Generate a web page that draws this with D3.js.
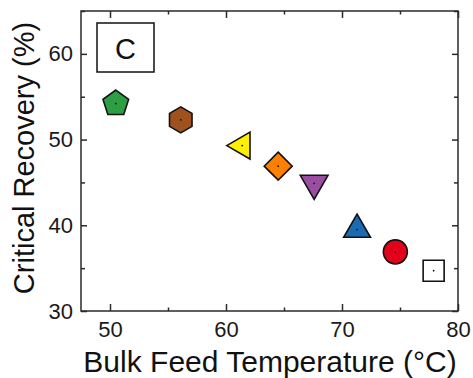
<!DOCTYPE html>
<html>
<head>
<meta charset="utf-8">
<script src="https://cdn.jsdelivr.net/npm/d3@7"></script>
<style>
	body { margin: 0; background: #fff; }
	svg { font-family: "Liberation Sans", Arial, sans-serif; }
</style>
</head>
<body>
<svg id="chart" width="473" height="378"></svg>
<script>
// ====================== 데이터 ======================
var temps    = [50.5, 56.1, 61.4, 64.5, 67.6, 71.3, 74.6, 77.9];
var recovery = [54.2, 52.3, 49.3, 46.9, 44.9, 39.5, 36.9, 34.7];
var shapes   = ["pentagon", "hexagon", "triangleLeft", "diamond", "triangleDown", "triangleUp", "circle", "square"];
var colors   = ["#2e9e44", "#a0521e", "#ffef00", "#ff7f00", "#994ea1", "#1b6bb3", "#e3001b", "#ffffff"];
var xTicks   = [50, 60, 70, 80];
var xMinor   = [55, 65, 75];
var yTicks   = [30, 40, 50, 60];
var yMinor   = [35, 45, 55, 65];
var panelLabel = "C";

var data = temps.map((t, i) => ({ t: t, r: recovery[i], shape: shapes[i], color: colors[i] }));

// ====================== 레이아웃 ======================
var margin = { top: 11, right: 15, bottom: 67, left: 81 };
var svg = d3.select("#chart");
var width = +svg.attr("width") - margin.left - margin.right;
var height = +svg.attr("height") - margin.top - margin.bottom;

var g = svg.append("g").attr("transform", `translate(${margin.left},${margin.top})`);

var x = d3.scaleLinear().domain([47.5, 80]).range([0, width]);
var y = d3.scaleLinear().domain([30, 65]).range([height, 0]);

var axisColor = "#2a2a2a";

function styleAxis(sel, showText) {
	sel.select(".domain").remove();
	sel.selectAll(".tick line").attr("stroke", axisColor).attr("stroke-width", 1.5);
	if (showText) {
		sel.selectAll(".tick text")
			.style("font-size", "22px")
			.attr("fill", "#1a1a1a");
	} else {
		sel.selectAll(".tick text").remove();
	}
}

// 아래 축
g.append("g").attr("transform", `translate(0,${height})`)
	.call(d3.axisBottom(x).tickValues(xTicks).tickSize(-7).tickPadding(10).tickFormat(d3.format("d")))
	.call(s => styleAxis(s, true));
g.append("g").attr("transform", `translate(0,${height})`)
	.call(d3.axisBottom(x).tickValues(xMinor).tickSize(-3.5))
	.call(s => styleAxis(s, false));

// 위 축 (눈금만)
g.append("g")
	.call(d3.axisTop(x).tickValues(xTicks).tickSize(-7))
	.call(s => styleAxis(s, false));
g.append("g")
	.call(d3.axisTop(x).tickValues(xMinor).tickSize(-3.5))
	.call(s => styleAxis(s, false));

// 왼쪽 축
g.append("g")
	.call(d3.axisLeft(y).tickValues(yTicks).tickSize(-6).tickPadding(8).tickFormat(d3.format("d")))
	.call(s => styleAxis(s, true));
g.append("g")
	.call(d3.axisLeft(y).tickValues(yMinor).tickSize(-4))
	.call(s => styleAxis(s, false));

// 오른쪽 축 (눈금만)
g.append("g").attr("transform", `translate(${width},0)`)
	.call(d3.axisRight(y).tickValues(yTicks).tickSize(-6))
	.call(s => styleAxis(s, false));
g.append("g").attr("transform", `translate(${width},0)`)
	.call(d3.axisRight(y).tickValues(yMinor).tickSize(-4))
	.call(s => styleAxis(s, false));

// 테두리
g.append("rect")
	.attr("width", width)
	.attr("height", height)
	.attr("fill", "none")
	.attr("stroke", axisColor)
	.attr("stroke-width", 1.5);

// ====================== 마커 ======================
function polygon(n, R, rot) {
	var pts = [];
	for (var k = 0; k < n; k++) {
		var a = rot + k * 2 * Math.PI / n;
		pts.push([R * Math.sin(a), -R * Math.cos(a)]);
	}
	return "M" + pts.map(p => p[0].toFixed(2) + "," + p[1].toFixed(2)).join("L") + "Z";
}

function markerPath(shape) {
	switch (shape) {
		case "pentagon": return polygon(5, 13.5, 0);
		case "hexagon": return polygon(6, 13, 0);
		case "triangleUp": return polygon(3, 15.5, 0);
		case "triangleDown": return polygon(3, 16, Math.PI);
		case "triangleLeft": return polygon(3, 15.5, -Math.PI / 2);
		case "diamond": return polygon(4, 14, 0);
		case "square": return "M-10.5,-10.5H10.5V10.5H-10.5Z";
		case "circle": return d3.symbol(d3.symbolCircle, Math.PI * 12 * 12)();
	}
}

var pts = g.selectAll(".pt")
	.data(data)
	.enter().append("g")
	.attr("class", "pt")
	.attr("transform", d => `translate(${x(d.t)},${y(d.r)})`);

pts.append("path")
	.attr("d", d => markerPath(d.shape))
	.attr("fill", d => d.color)
	.attr("stroke", "#111")
	.attr("stroke-width", 1.6)
	.attr("stroke-linejoin", "miter");

pts.append("circle")
	.attr("r", 0.9)
	.attr("fill", "#111");

// ====================== 패널 라벨 ======================
g.append("rect")
	.attr("x", 16)
	.attr("y", 12)
	.attr("width", 57)
	.attr("height", 49)
	.attr("fill", "#fff")
	.attr("stroke", "#111")
	.attr("stroke-width", 1.5);

g.append("text")
	.attr("x", 16 + 57 / 2)
	.attr("y", 48)
	.attr("text-anchor", "middle")
	.style("font-size", "29px")
	.attr("fill", "#111")
	.text(panelLabel);

// ====================== 축 제목 ======================
svg.append("text")
	.attr("x", 270)
	.attr("y", 372)
	.attr("text-anchor", "middle")
	.style("font-size", "30px")
	.attr("fill", "#111")
	.text("Bulk Feed Temperature (°C)");

svg.append("text")
	.attr("transform", "translate(34,158) rotate(-90)")
	.attr("text-anchor", "middle")
	.style("font-size", "29px")
	.attr("fill", "#111")
	.text("Critical Recovery (%)");
</script>
</body>
</html>
